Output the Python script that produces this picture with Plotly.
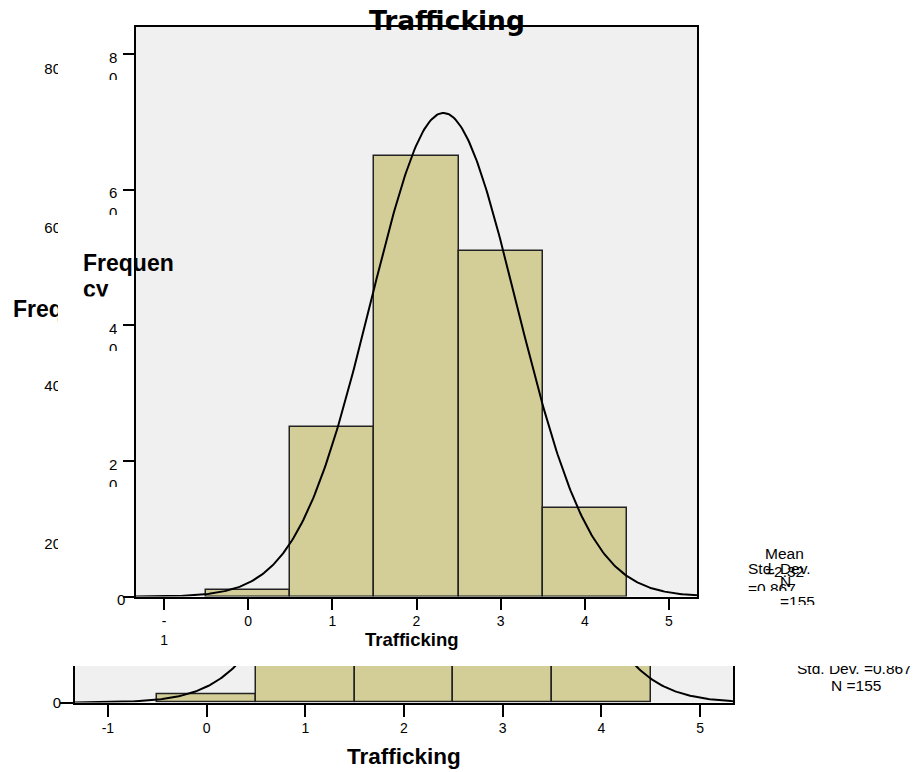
import numpy as np
import plotly.graph_objects as go

# ---------------- data ----------------
BIN_CENTERS = [0, 1, 2, 3, 4]
COUNTS = [1, 25, 65, 51, 13]
MEAN = 2.32
STD_DEV = 0.867
N_OBS = 155
BIN_WIDTH = 1.0
X_RANGE = [-1.3333, 5.3333]
Y_RANGE = [0, 84]
X_TICKS = [-1, 0, 1, 2, 3, 4, 5]
X_TICKTEXT_BACK = ["-1", "0", "1", "2", "3", "4", "5"]
X_TICKTEXT_FRONT = ["-<br>1", "0", "1", "2", "3", "4", "5"]
Y_TICKS = [0, 20, 40, 60, 80]
Y_TICKTEXT_BACK = ["0", "20", "40", "60", "80"]
Y_TICKTEXT_FRONT = ["0", "2<br>0", "4<br>0", "6<br>0", "8<br>0"]
TITLE = "Trafficking"
X_LABEL = "Trafficking"
Y_LABEL = "Frequency"
Y_LABEL_WRAPPED = ["Frequen", "cy"]
STAT_MEAN = ["Mean", "=2.32"]
STAT_SD = ["Std. Dev.", "=0.867"]
STAT_N = ["N", "=155"]

W, H = 914, 772
BAR_FILL = "#d3ce97"
PLOT_BG = "#f0f0f0"
FONT = "Liberation Sans, Arial, sans-serif"


def fx(p):
    return p / W


def fy(p):
    return 1 - p / H


# normal curve defined by the displayed statistics
xc = np.linspace(X_RANGE[0], X_RANGE[1], 400)
yc = N_OBS * BIN_WIDTH / (STD_DEV * np.sqrt(2 * np.pi)) * np.exp(-0.5 * ((xc - MEAN) / STD_DEV) ** 2)

fig = go.Figure()

# ---- background (larger) rendering ----
fig.add_trace(go.Bar(x=BIN_CENTERS, y=COUNTS, width=BIN_WIDTH, marker=dict(color=BAR_FILL, line=dict(color="#222222", width=1.5)),
                     xaxis="x", yaxis="y", hoverinfo="skip"))
fig.add_trace(go.Scatter(x=xc, y=yc, mode="lines", line=dict(color="black", width=2), xaxis="x", yaxis="y", hoverinfo="skip"))

# ---- white cover (the front picture's page) ----
fig.add_trace(go.Scatter(x=[-1, 2, 2, -1, -1], y=[-1, -1, 2, 2, -1], mode="lines", fill="toself", fillcolor="white",
                         line=dict(width=0, color="white"), xaxis="x2", yaxis="y2", hoverinfo="skip"))

# ---- front (smaller) rendering ----
fig.add_trace(go.Bar(x=BIN_CENTERS, y=COUNTS, width=BIN_WIDTH, marker=dict(color=BAR_FILL, line=dict(color="#222222", width=1.5)),
                     xaxis="x3", yaxis="y3", hoverinfo="skip"))
fig.add_trace(go.Scatter(x=xc, y=yc, mode="lines", line=dict(color="black", width=2), xaxis="x3", yaxis="y3", hoverinfo="skip"))

axis_common = dict(showgrid=False, zeroline=False, showline=True, linecolor="black", linewidth=2, mirror=True,
                   ticks="outside", tickwidth=2, tickcolor="black", automargin=False)

fig.update_layout(
    width=W, height=H, margin=dict(l=0, r=0, t=0, b=0, pad=0, autoexpand=False),
    paper_bgcolor="white", plot_bgcolor=PLOT_BG, showlegend=False, bargap=0,
    font=dict(family=FONT, color="black"),
    xaxis=dict(domain=[fx(75), fx(733)], range=X_RANGE, anchor="y", tickvals=X_TICKS, ticktext=X_TICKTEXT_BACK,
               ticklen=12, tickfont=dict(size=14), **axis_common),
    yaxis=dict(domain=[fy(702.5), fy(37.3)], range=Y_RANGE, anchor="x", tickvals=Y_TICKS, ticktext=Y_TICKTEXT_BACK,
               ticklen=13, tickfont=dict(size=15), ticklabelstandoff=-4, **axis_common),
    xaxis2=dict(domain=[fx(58), 1], range=[0, 1], anchor="y2", visible=False, automargin=False),
    yaxis2=dict(domain=[fy(666), 1], range=[0, 1], anchor="x2", visible=False, automargin=False),
    xaxis3=dict(domain=[fx(136), fx(697)], range=X_RANGE, anchor="y3", tickvals=X_TICKS, ticktext=X_TICKTEXT_FRONT,
                ticklen=11, tickfont=dict(size=14), **axis_common),
    yaxis3=dict(domain=[fy(596.5), fy(27)], range=Y_RANGE, anchor="x3", tickvals=Y_TICKS, ticklen=11,
                showticklabels=False, **axis_common),
)

ann = []


def add(text, x, y, xanchor="left", yanchor="top", size=15, bold=False, family=FONT, height=None, width=None,
        valign="top", align="left", yref="paper", yshift=0):
    d = dict(text=text, x=x, y=y, xref="paper", yref=yref, xanchor=xanchor, yanchor=yanchor, showarrow=False,
             font=dict(size=size, family=family, color="black", weight="bold" if bold else "normal"),
             borderpad=0, borderwidth=0, align=align, valign=valign, yshift=yshift)
    if height is not None:
        d["height"] = height
    if width is not None:
        d["width"] = width
    ann.append(d)


# background: horizontal y title clipped by the front picture
add(Y_LABEL, fx(13), fy(309), yanchor="middle", size=23, bold=True, width=45)
# background: x title
add(X_LABEL, fx(404), fy(756), xanchor="center", yanchor="middle", size=22.5, bold=True)
# background: statistics (top line partly hidden)
add(STAT_SD[0] + " " + STAT_SD[1], fx(854), fy(677.3), xanchor="center", yanchor="bottom", size=15.5,
    height=11, valign="bottom", align="center")
add(STAT_N[0] + " " + STAT_N[1], fx(856), fy(685.6), xanchor="center", yanchor="middle", size=15.5)

# front: title
add(TITLE, fx(447), fy(20.1), xanchor="center", yanchor="middle", size=26.5, bold=True, family="DejaVu Sans, sans-serif")
# front: x title
add(X_LABEL, fx(412), fy(639.6), xanchor="center", yanchor="middle", size=18.5, bold=True)
# front: wrapped y title
add(Y_LABEL_WRAPPED[0], fx(83), fy(263), yanchor="middle", size=23, bold=True)
add(Y_LABEL_WRAPPED[1], fx(83), fy(276.2), yanchor="top", size=23, bold=True, height=20.5)
# front: wrapped statistics
add(STAT_MEAN[0], fx(765), fy(545), size=15.5)
add(STAT_MEAN[1], fx(765), fy(563), size=15.5)
add(STAT_SD[0], fx(748), fy(560), size=15.5)
add(STAT_SD[1], fx(748), fy(580), size=15.5, height=11)
add(STAT_N[0], fx(780), fy(573), size=15.5)
add(STAT_N[1], fx(780), fy(593), size=15.5, height=12)

# front: wrapped y tick labels (second line cut off)
for v, t in zip(Y_TICKS, Y_TICKTEXT_FRONT):
    if "<br>" in t:
        add(t, fx(112.5), v, xanchor="center", yanchor="top", size=15, yref="y3", yshift=5.4, height=31,
            align="center")
    else:
        add(t, fx(125), v, xanchor="right", yanchor="top", size=15, yref="y3", yshift=5.4)

fig.update_layout(annotations=ann)

fig.write_html("out.html", config={"displayModeBar": False},
               post_script="document.body.style.margin='0';document.body.style.overflow='hidden';")
